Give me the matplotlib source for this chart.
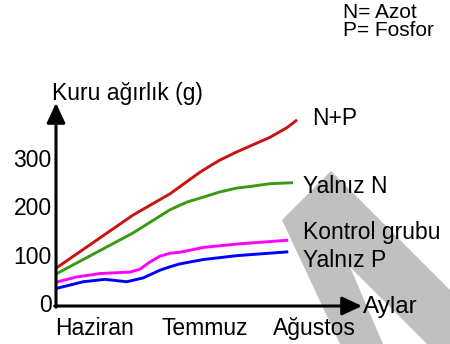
import matplotlib
matplotlib.use("Agg")
import matplotlib.pyplot as plt
from matplotlib.patches import Polygon

plt.rcParams['font.family'] = ['Liberation Sans', 'DejaVu Sans']

# x in months: 0 = Haziran, 1 = Temmuz, 2 = Ağustos; y = dry weight in grams
month_labels = ["Haziran", "Temmuz", "Ağustos"]
month_ticks = [0, 1, 2]
y_ticks = [0, 100, 200, 300]

np_x = [-0.356, 0.347, 0.685, 0.868, 0.96, 1.06, 1.142, 1.297, 1.598, 1.753, 1.845]
np_y = [72, 182, 226, 256, 271, 285, 296, 313, 343, 363, 379]

n_x = [-0.356, 0.347, 0.685, 0.84, 0.986, 1.142, 1.297, 1.443, 1.598, 1.808]
n_y = [60, 145, 193, 209, 219, 230, 238, 242, 247, 249]

ctrl_x = [-0.356, -0.167, 0.046, 0.32, 0.411, 0.502, 0.594, 0.685, 0.776, 0.989, 1.294, 1.765]
ctrl_y = [43, 54, 61, 64, 70, 85, 97, 103, 105, 115, 122, 130]

p_x = [-0.356, -0.107, 0.091, 0.289, 0.441, 0.594, 0.685, 0.776, 0.989, 1.294, 1.765]
p_y = [30, 44, 49, 44, 52, 68, 75, 81, 90, 98, 106]

W, H = 450, 344
fig = plt.figure(figsize=(W / 100, H / 100), dpi=100)
fig.patch.set_facecolor("white")

def fx(px):
    return px / W

def fy(py):
    return 1 - py / H

ax = fig.add_axes([fx(56), fy(306), fx(362) - fx(56), fy(103) - fy(306)])
ax.set_xlim(-0.356, 2.438)
ax.set_ylim(-6.2, 414)
for s in ax.spines.values():
    s.set_visible(False)

# grey wedge behind the right-hand labels
wedge_px = [(282, 220), (331, 171), (450, 290), (450, 344), (427, 344),
            (350, 267), (383, 344), (340, 344)]
wedge = Polygon([(fx(a), fy(b)) for a, b in wedge_px], closed=True,
                transform=fig.transFigure, facecolor="#c0c0c0",
                edgecolor="none", clip_on=False, zorder=0.5)
ax.add_patch(wedge)

lw = 2.1
for xs, ys, c in [(np_x, np_y, "#cc1111"), (n_x, n_y, "#3a9a14"),
                  (ctrl_x, ctrl_y, "#ff00ff"), (p_x, p_y, "#0000ff")]:
    ax.plot(xs, ys, color=c, lw=lw, solid_capstyle="butt",
            solid_joinstyle="round", clip_on=False)

# axis arrows
arrow = dict(arrowstyle="-|>,head_length=0.6,head_width=0.28", color="black",
             lw=2.2, mutation_scale=20, shrinkA=0, shrinkB=0)
ax.annotate("", xy=(0, 1), xytext=(0, -0.006), xycoords="axes fraction",
            arrowprops=arrow, annotation_clip=False)
ax.annotate("", xy=(1, 0), xytext=(-0.004, 0), xycoords="axes fraction",
            arrowprops=arrow, annotation_clip=False)

fs = 16.5
ax.set_xticks(month_ticks, month_labels, fontsize=fs)
ax.set_yticks(y_ticks, [str(v) for v in y_ticks], fontsize=fs)
ax.tick_params(axis="x", length=0, pad=8)
ax.tick_params(axis="y", length=0, pad=3)

fig.text(fx(52), fy(100), "Kuru ağırlık (g)", fontsize=fs, va="baseline")
fig.text(fx(312), fy(125), "N+P", fontsize=fs, va="baseline")
fig.text(fx(303), fy(193), "Yalnız N", fontsize=fs, va="baseline")
fig.text(fx(303), fy(239), "Kontrol grubu", fontsize=fs, va="baseline")
fig.text(fx(303), fy(267), "Yalnız P", fontsize=fs, va="baseline")
fig.text(fx(363), fy(313), "Aylar", fontsize=17.5, va="baseline")
fig.text(fx(343), fy(18), "N= Azot", fontsize=15, va="baseline")
fig.text(fx(343), fy(36), "P= Fosfor", fontsize=15, va="baseline")

fig.savefig("out.png", dpi=100, facecolor="white")
